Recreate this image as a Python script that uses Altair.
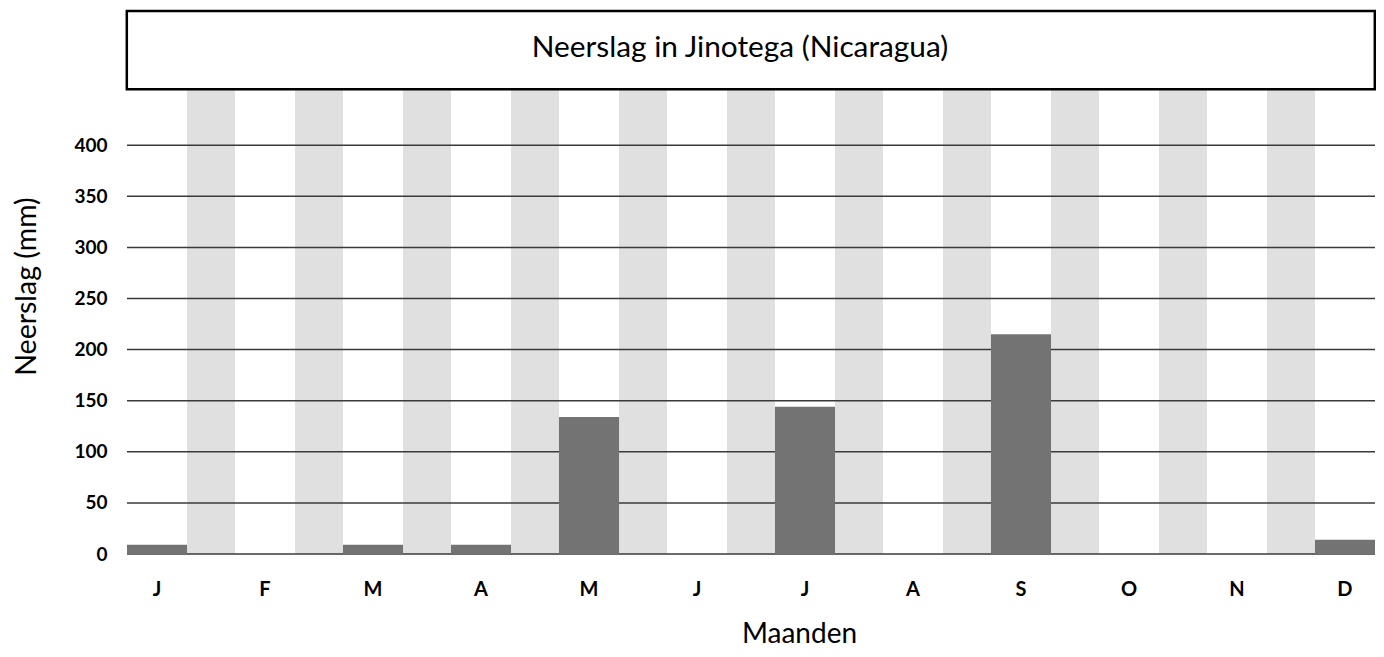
import altair as alt
import pandas as pd

# ---- data ----
maanden = ["januari", "februari", "maart", "april", "mei", "juni",
           "juli", "augustus", "september", "oktober", "november", "december"]
maand_labels = ["J", "F", "M", "A", "M", "J", "J", "A", "S", "O", "N", "D"]
neerslag = [9, 0, 9, 9, 134, 0, 144, 0, 215, 0, 0, 14]
y_ticks = [0, 50, 100, 150, 200, 250, 300, 350, 400]
titel = "Neerslag in Jinotega (Nicaragua)"

W, H = 1248, 464
FONT = "Lato"

bars_df = pd.DataFrame({"maand": maanden, "neerslag": neerslag})
stripes_df = pd.DataFrame({"van": maanden[:-1], "tot": maanden[1:]})
grid_df = pd.DataFrame({"waarde": y_ticks})
title_df = pd.DataFrame({"t": [titel]})

label_expr = "[{}][indexof([{}], datum.value)]".format(
    ",".join("'%s'" % l for l in maand_labels),
    ",".join("'%s'" % m for m in maanden),
)

xscale = alt.Scale(domain=maanden, paddingInner=0.444, paddingOuter=0)
yscale = alt.Scale(domain=[0, 454], nice=False, zero=True)

xaxis = alt.Axis(
    title="Maanden", labelExpr=label_expr, labelAngle=0, ticks=False, domain=False,
    grid=False, labelFont=FONT, labelFontSize=20, labelFontWeight="bold",
    labelColor="black", labelPadding=25, titleFont=FONT, titleFontSize=28,
    titleFontWeight="normal", titleColor="black", titleX=672, titleY=94,
    titleBaseline="bottom", titleAlign="center",
)
yaxis = alt.Axis(
    title="Neerslag (mm)", values=y_ticks, ticks=False, domain=False, grid=False,
    labelFont=FONT, labelFontSize=19, labelFontWeight="bold", labelColor="black",
    labelPadding=20, titleFont=FONT, titleFontSize=28.5, titleFontWeight="normal",
    titleColor="black", titleX=-101, titleY=196, titleAngle=270,
    titleAlign="center", titleBaseline="middle",
)

stripes = alt.Chart(stripes_df).mark_rect(color="#e0e0e0").encode(
    x=alt.X("van:N", bandPosition=1, scale=xscale, axis=xaxis),
    x2=alt.X2("tot:N", bandPosition=0),
    y=alt.value(0),
    y2=alt.value(H),
)

grid = alt.Chart(grid_df).mark_rule(color="#3a3a3a", strokeWidth=1.5).encode(
    y=alt.Y("waarde:Q", scale=yscale, axis=yaxis),
)

bars = alt.Chart(bars_df).mark_bar(color="#737373").encode(
    x=alt.X("maand:N", scale=xscale, axis=xaxis, sort=None),
    y=alt.Y("neerslag:Q", scale=yscale, axis=yaxis),
)

box = alt.Chart(title_df).mark_rect(fill="white", stroke="black", strokeWidth=2.5).encode(
    x=alt.value(-0.2), x2=alt.value(1247.8), y=alt.value(-79), y2=alt.value(-0.8),
)

title_text = alt.Chart(title_df).mark_text(
    font=FONT, fontSize=29.8, color="black", align="center", baseline="alphabetic"
).encode(text="t:N", x=alt.value(613), y=alt.value(-33))

chart = alt.layer(stripes, grid, bars, box, title_text).properties(
    width=W, height=H,
    autosize=alt.AutoSizeParams(type="none"),
    padding={"left": 119, "top": 82, "right": 1, "bottom": 95},
).configure(background="white").configure_view(stroke="transparent")

chart.save("out.html", embed_options={"renderer": "svg", "actions": False})
